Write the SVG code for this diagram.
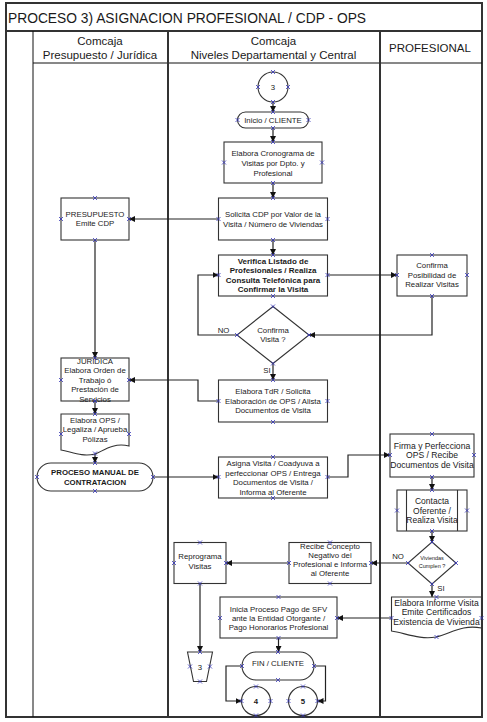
<svg xmlns="http://www.w3.org/2000/svg" xmlns:xlink="http://www.w3.org/1999/xlink" width="487" height="722" viewBox="0 0 487 722">
<style>
text{font-family:"Liberation Sans",Arial,sans-serif;fill:#1a1a1a;text-anchor:middle;font-size:7.8px}
.b{font-weight:bold}
.hd{font-size:11.5px}
.ttl{font-size:13.8px;text-anchor:start}
.box{fill:#fff;stroke:#333;stroke-width:1.1}
.frame{fill:none;stroke:#333;stroke-width:2}
.lane{stroke:#333;stroke-width:2}
.thin{stroke:#111;stroke-width:1}
.con{fill:none;stroke:#222;stroke-width:1.2}
.cp{fill:none;stroke:#3535b8;stroke-width:0.8}
</style>
<defs>
<marker id="ah" markerWidth="7" markerHeight="6" refX="6" refY="3" orient="auto" markerUnits="userSpaceOnUse">
<path d="M0,0 L6,3 L0,6 Z" fill="#111"/>
</marker>
<path id="x" class="cp" d="M-2,-2 L2,2 M-2,2 L2,-2"/>
</defs>

<g id="frame">
<rect class="frame" x="6" y="3" width="476" height="714"/>
<line class="lane" x1="6" y1="31" x2="482" y2="31"/>
<line class="thin" x1="33" y1="63" x2="482" y2="63"/>
<line class="thin" x1="33" y1="31" x2="33" y2="717"/>
<line class="lane" x1="168" y1="31" x2="168" y2="717"/>
<line class="lane" x1="380" y1="31" x2="380" y2="717"/>
<text class="ttl" x="8" y="22.5">PROCESO 3) ASIGNACION PROFESIONAL / CDP - OPS</text>
<text class="hd" x="100" y="45">Comcaja</text>
<text class="hd" x="100" y="58.5">Presupuesto / Jurídica</text>
<text class="hd" x="273.5" y="45">Comcaja</text>
<text class="hd" x="273.5" y="58.5">Niveles Departamental y Central</text>
<text class="hd" x="430" y="52">PROFESIONAL</text>
</g>

<g id="connectors">
<path class="con" marker-end="url(#ah)" d="M273,102 V112"/>
<path class="con" marker-end="url(#ah)" d="M273,128 V142"/>
<path class="con" marker-end="url(#ah)" d="M273,183 V198"/>
<path class="con" marker-end="url(#ah)" d="M218.5,219 H129"/>
<path class="con" marker-end="url(#ah)" d="M273,240 V255"/>
<path class="con" marker-end="url(#ah)" d="M327.5,275 H397"/>
<path class="con" marker-end="url(#ah)" d="M432,296 V335 H309"/>
<path class="con" marker-end="url(#ah)" d="M237,335 H198 V275 H218.5"/>
<path class="con" marker-end="url(#ah)" d="M273,363.5 V380"/>
<path class="con" marker-end="url(#ah)" d="M95,240 V358"/>
<path class="con" marker-end="url(#ah)" d="M218.5,401 H198 V380 H129"/>
<path class="con" marker-end="url(#ah)" d="M95,401 V414"/>
<path class="con" marker-end="url(#ah)" d="M95,453 V463"/>
<path class="con" marker-end="url(#ah)" d="M153,477 H218.5"/>
<path class="con" marker-end="url(#ah)" d="M327.5,477 H348 V455 H390"/>
<path class="con" marker-end="url(#ah)" d="M432,477 V490"/>
<path class="con" marker-end="url(#ah)" d="M432,531 V542"/>
<path class="con" marker-end="url(#ah)" d="M408,563 H371"/>
<path class="con" marker-end="url(#ah)" d="M289,563 H226"/>
<path class="con" marker-end="url(#ah)" d="M432,584 V597"/>
<path class="con" marker-end="url(#ah)" d="M391.5,618 H337"/>
<path class="con" marker-end="url(#ah)" d="M278.5,638 V652"/>
<path class="con" marker-end="url(#ah)" d="M242,666 H226 V701 H241.5"/>
<path class="con" marker-end="url(#ah)" d="M314,666 H325.5 V701 H317.5"/>
<path class="con" marker-end="url(#ah)" d="M200,583.5 V652"/>
<text x="223.5" y="332.8">NO</text>
<text x="267" y="373">SI</text>
<text x="398" y="558.8">NO</text>
<text x="441" y="590.5">SI</text>
</g>

<g id="n-c3">
<circle class="box" cx="273" cy="87" r="15"/>
<text x="273" y="90">3</text>
<use href="#x" x="273" y="72"/><use href="#x" x="273" y="102"/><use href="#x" x="258" y="87"/><use href="#x" x="288" y="87"/>
</g>
<g id="n-inicio">
<rect class="box" x="237.5" y="112" width="71" height="16" rx="8"/>
<text x="273" y="122.8">Inicio / CLIENTE</text>
<use href="#x" x="273" y="112"/><use href="#x" x="273" y="128"/><use href="#x" x="237.5" y="120"/><use href="#x" x="308.5" y="120"/>
</g>
<g id="n-crono">
<rect class="box" x="224" y="142" width="98" height="41"/>
<text x="273" y="155.8">Elabora Cronograma de</text>
<text x="273" y="165.8">Visitas por Dpto. y</text>
<text x="273" y="175.8">Profesional</text>
<use href="#x" x="273" y="142"/><use href="#x" x="273" y="183"/><use href="#x" x="224" y="162.5"/><use href="#x" x="322" y="162.5"/>
</g>
<g id="n-solicita">
<rect class="box" x="218.5" y="198" width="109" height="42"/>
<text x="273" y="216.8">Solicita CDP por Valor de la</text>
<text x="273" y="226.8">Visita / Número de Viviendas</text>
<use href="#x" x="273" y="198"/><use href="#x" x="273" y="240"/><use href="#x" x="218.5" y="219"/><use href="#x" x="327.5" y="219"/>
</g>
<g id="n-presupuesto">
<rect class="box" x="61" y="198" width="68" height="42"/>
<text x="95" y="216.8">PRESUPUESTO</text>
<text x="95" y="226.3">Emite CDP</text>
<use href="#x" x="95" y="198"/><use href="#x" x="95" y="240"/><use href="#x" x="61" y="219"/><use href="#x" x="129" y="219"/>
</g>
<g id="n-verifica">
<rect class="box" x="218.5" y="255" width="109" height="41"/>
<text class="b" x="273" y="263.9" style="font-size:8px">Verifica Listado de</text>
<text class="b" x="273" y="273.4" style="font-size:8px">Profesionales /  Realiza</text>
<text class="b" x="273" y="282.9" style="font-size:8px">Consulta Telefónica para</text>
<text class="b" x="273" y="292.4" style="font-size:8px">Confirmar la Visita</text>
<use href="#x" x="273" y="255"/><use href="#x" x="273" y="296"/><use href="#x" x="218.5" y="275"/><use href="#x" x="327.5" y="275"/>
</g>
<g id="n-confirma-pos">
<rect class="box" x="397" y="255" width="70" height="41"/>
<text x="432" y="268.3">Confirma</text>
<text x="432" y="277.8">Posibilidad de</text>
<text x="432" y="287.3">Realizar Visitas</text>
<use href="#x" x="432" y="255"/><use href="#x" x="432" y="296"/><use href="#x" x="397" y="275"/><use href="#x" x="467" y="275"/>
</g>
<g id="n-confirma-visita">
<path class="box" d="M273,306.5 L309,335 L273,363.5 L237,335 Z"/>
<text x="273" y="332.8">Confirma</text>
<text x="273" y="342.3">Visita ?</text>
<use href="#x" x="273" y="306.5"/><use href="#x" x="273" y="363.5"/><use href="#x" x="237" y="335"/><use href="#x" x="309" y="335"/>
</g>
<g id="n-tdr">
<rect class="box" x="218.5" y="380" width="109" height="42"/>
<text x="273" y="394.3">Elabora TdR / Solicita</text>
<text x="273" y="403.8">Elaboración de OPS / Alista</text>
<text x="273" y="413.3">Documentos de Visita</text>
<use href="#x" x="273" y="380"/><use href="#x" x="273" y="422"/><use href="#x" x="218.5" y="401"/><use href="#x" x="327.5" y="401"/>
</g>
<g id="n-juridica">
<rect class="box" x="61" y="358" width="68" height="43"/>
<text x="95" y="364">JURIDICA</text>
<text x="95" y="373.4">Elabora Orden de</text>
<text x="95" y="382.8">Trabajo ó</text>
<text x="95" y="392.2">Prestación de</text>
<text x="95" y="401.6">Servicios</text>
<use href="#x" x="95" y="358"/><use href="#x" x="95" y="401"/><use href="#x" x="61" y="380"/><use href="#x" x="129" y="380"/>
</g>
<g id="n-ops">
<path class="box" d="M61,414 H129 V446 C112,442 102,452 95,454 C82,457 72,452 61,450 Z"/>
<text x="95" y="422.8">Elabora OPS /</text>
<text x="95" y="432.3">Legaliza / Aprueba</text>
<text x="95" y="441.8">Pólizas</text>
<use href="#x" x="95" y="414"/><use href="#x" x="95" y="453.5"/><use href="#x" x="61" y="434"/><use href="#x" x="129" y="434"/>
</g>
<g id="n-manual">
<rect class="box" x="37" y="463" width="116" height="28" rx="14"/>
<text class="b" x="95" y="474.8">PROCESO MANUAL DE</text>
<text class="b" x="95" y="484.8">CONTRATACION</text>
<use href="#x" x="95" y="463"/><use href="#x" x="95" y="491"/><use href="#x" x="37" y="477"/><use href="#x" x="153" y="477"/>
</g>
<g id="n-asigna">
<rect class="box" x="218.5" y="457" width="109" height="41"/>
<text x="273" y="466.1">Asigna Visita / Coadyuva a</text>
<text x="273" y="475.6">perfeccionar OPS / Entrega</text>
<text x="273" y="485.1">Documentos de Visita /</text>
<text x="273" y="494.6">Informa al Oferente</text>
<use href="#x" x="273" y="457"/><use href="#x" x="273" y="498"/><use href="#x" x="218.5" y="477"/><use href="#x" x="327.5" y="477"/>
</g>
<g id="n-firma">
<rect class="box" x="390" y="434" width="84" height="43"/>
<text x="432" y="448.5" style="font-size:8.6px">Firma y Perfecciona</text>
<text x="432" y="458" style="font-size:8.6px">OPS / Recibe</text>
<text x="432" y="467.5" style="font-size:8.6px">Documentos de Visita</text>
<use href="#x" x="432" y="434"/><use href="#x" x="432" y="477"/><use href="#x" x="390" y="455"/><use href="#x" x="474" y="455"/>
</g>
<g id="n-contacta">
<rect class="box" x="397" y="490" width="70" height="41"/>
<line class="box" x1="406.5" y1="490" x2="406.5" y2="531"/>
<line class="box" x1="457.5" y1="490" x2="457.5" y2="531"/>
<text x="432" y="504" style="font-size:8.5px">Contacta</text>
<text x="432" y="513.5" style="font-size:8.5px">Oferente /</text>
<text x="432" y="523" style="font-size:8.5px">Realiza Visita</text>
<use href="#x" x="432" y="490"/><use href="#x" x="432" y="531"/><use href="#x" x="397" y="510.5"/><use href="#x" x="467" y="510.5"/>
</g>
<g id="n-viviendas">
<path class="box" d="M432,542 L456,563 L432,584 L408,563 Z"/>
<text x="432" y="559.5" style="font-size:5.5px">Viviendas</text>
<text x="432" y="567.5" style="font-size:5.5px">Cumplen ?</text>
<use href="#x" x="432" y="542"/><use href="#x" x="432" y="584"/><use href="#x" x="408" y="563"/><use href="#x" x="456" y="563"/>
</g>
<g id="n-recibe">
<rect class="box" x="289" y="542.5" width="82" height="41"/>
<text x="330" y="549.3">Recibe Concepto</text>
<text x="330" y="558.3">Negativo del</text>
<text x="330" y="567.3">Profesional e Informa</text>
<text x="330" y="576.3">al Oferente</text>
<use href="#x" x="330" y="542.5"/><use href="#x" x="330" y="583.5"/><use href="#x" x="289" y="563"/><use href="#x" x="371" y="563"/>
</g>
<g id="n-reprograma">
<rect class="box" x="174" y="542.5" width="52" height="41"/>
<text x="200" y="558.8">Reprograma</text>
<text x="200" y="568.8">Visitas</text>
<use href="#x" x="200" y="542.5"/><use href="#x" x="200" y="583.5"/><use href="#x" x="174" y="563"/><use href="#x" x="226" y="563"/>
</g>
<g id="n-informe">
<path class="box" d="M391.5,597 H481.5 V628 C462,624 450,634 436,637 C420,640 405,633 391.5,631 Z"/>
<text x="436.5" y="605.7" style="font-size:8.6px">Elabora Informe Visita</text>
<text x="436.5" y="615" style="font-size:8.6px">Emite Certificados</text>
<text x="436.5" y="624.7" style="font-size:8.6px">Existencia de Vivienda</text>
<use href="#x" x="436.5" y="597"/><use href="#x" x="436.5" y="637"/><use href="#x" x="391.5" y="618"/><use href="#x" x="481.5" y="618"/>
</g>
<g id="n-inicia">
<rect class="box" x="220" y="597" width="117" height="41"/>
<text x="278.5" y="611.8">Inicia Proceso Pago de SFV</text>
<text x="278.5" y="620.8">ante la Entidad Otorgante /</text>
<text x="278.5" y="629.8">Pago Honorarios Profesional</text>
<use href="#x" x="278.5" y="597"/><use href="#x" x="278.5" y="638"/><use href="#x" x="220" y="618"/><use href="#x" x="337" y="618"/>
</g>
<g id="n-fin">
<rect class="box" x="242" y="652" width="72" height="28" rx="14"/>
<text x="278" y="666">FIN / CLIENTE</text>
<use href="#x" x="278" y="652"/><use href="#x" x="278" y="680"/><use href="#x" x="242" y="666"/><use href="#x" x="314" y="666"/>
</g>
<g id="n-offpage3">
<path class="box" d="M187.5,652 H212.5 L206.5,681.5 H193.5 Z"/>
<text x="200" y="669.5">3</text>
<use href="#x" x="200" y="652"/><use href="#x" x="200" y="681.5"/><use href="#x" x="190" y="666.5"/><use href="#x" x="210" y="666.5"/>
</g>
<g id="n-c4">
<circle class="box" cx="256" cy="701" r="14.5"/>
<text class="b" x="256" y="704">4</text>
<use href="#x" x="256" y="686.5"/><use href="#x" x="256" y="715.5"/><use href="#x" x="241.5" y="701"/><use href="#x" x="270.5" y="701"/>
</g>
<g id="n-c5">
<circle class="box" cx="303" cy="701" r="14.5"/>
<text class="b" x="303" y="704">5</text>
<use href="#x" x="303" y="686.5"/><use href="#x" x="303" y="715.5"/><use href="#x" x="288.5" y="701"/><use href="#x" x="317.5" y="701"/>
</g>
</svg>
